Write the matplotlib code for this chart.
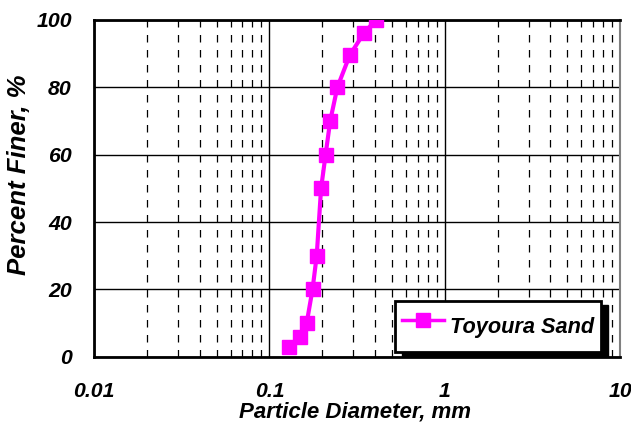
import numpy as np
import matplotlib.pyplot as plt
from matplotlib.patches import Rectangle
from matplotlib.transforms import IdentityTransform
from matplotlib.ticker import LogLocator, FixedLocator, NullFormatter

# Toyoura sand grading
diameter_mm = [0.130, 0.150, 0.163, 0.176, 0.186, 0.197, 0.209, 0.222, 0.244, 0.287, 0.345, 0.405]
percent_finer = [3, 6, 10, 20, 30, 50, 60, 70, 80, 89.5, 96, 100]
series_name = 'Toyoura Sand'

x_ticks = [0.01, 0.1, 1, 10]
x_tick_labels = ['0.01', '0.1', '1', '10']
y_ticks = [0, 20, 40, 60, 80, 100]

plt.rcParams['font.family'] = ['Liberation Sans', 'DejaVu Sans']
bi = {'fontweight': 'bold', 'fontstyle': 'italic'}

fig = plt.figure(figsize=(6.31, 4.30), dpi=100)
ax = fig.add_axes([0.149, 0.170, 0.834, 0.784])

ax.set_xscale('log')
ax.set_xlim(0.01, 10)
ax.set_ylim(0, 100)

ax.xaxis.set_major_locator(FixedLocator(x_ticks))
ax.set_xticklabels(x_tick_labels)
ax.xaxis.set_minor_locator(LogLocator(base=10, subs=np.arange(2, 10)))
ax.xaxis.set_minor_formatter(NullFormatter())
ax.set_yticks(y_ticks)

ax.grid(which='major', axis='both', color='black', linestyle='-', linewidth=1.0)
ax.grid(which='minor', axis='x', color='black', linestyle=(0, (6, 6)), linewidth=0.9)
ax.set_axisbelow(True)

ax.tick_params(which='both', length=0)
ax.tick_params(axis='x', pad=18)
ax.tick_params(axis='y', pad=16)
for lab in ax.get_xticklabels() + ax.get_yticklabels():
    lab.set_fontsize(15.3)
    lab.set(**bi)

for side in ['left', 'bottom', 'top']:
    ax.spines[side].set_linewidth(2.0)
ax.spines['right'].set_linewidth(1.5)
ax.spines['right'].set_color('#808080')

ax.plot(diameter_mm, percent_finer, '-s', color='#ff00ff', linewidth=3,
        markersize=10, markeredgecolor='#ff00ff', label=series_name, zorder=5)

ax.set_xlabel('Particle Diameter, mm', fontsize=16, **bi)
ax.set_ylabel('Percent Finer, %', fontsize=18.5, **bi)
ax.xaxis.set_label_coords(0.496, -0.163)
ax.xaxis.label.set_va('center')
ax.yaxis.set_label_coords(-0.1435, 0.54)
ax.yaxis.label.set_va('center')

leg = ax.legend(loc='lower right', bbox_to_anchor=(0.964, 0.015), borderaxespad=0,
                fancybox=False, shadow=False, framealpha=1, edgecolor='black',
                handlelength=1.93, handleheight=2.25, handletextpad=0.3, borderpad=0.32,
                prop={'size': 15.7, 'weight': 'bold', 'style': 'italic'})
leg.get_frame().set_linewidth(2.0)
leg.set_zorder(10)
for h in leg.get_lines():
    h.set_linewidth(2.5)

# solid black drop shadow behind the legend box
fig.canvas.draw()
bb = leg.get_frame().get_window_extent()
ax.add_patch(Rectangle((bb.x0 + 7, bb.y0 - 4), bb.width, bb.height, transform=IdentityTransform(),
                       facecolor='black', edgecolor='black', zorder=9, clip_on=False))

fig.savefig('out.png', dpi=100)
